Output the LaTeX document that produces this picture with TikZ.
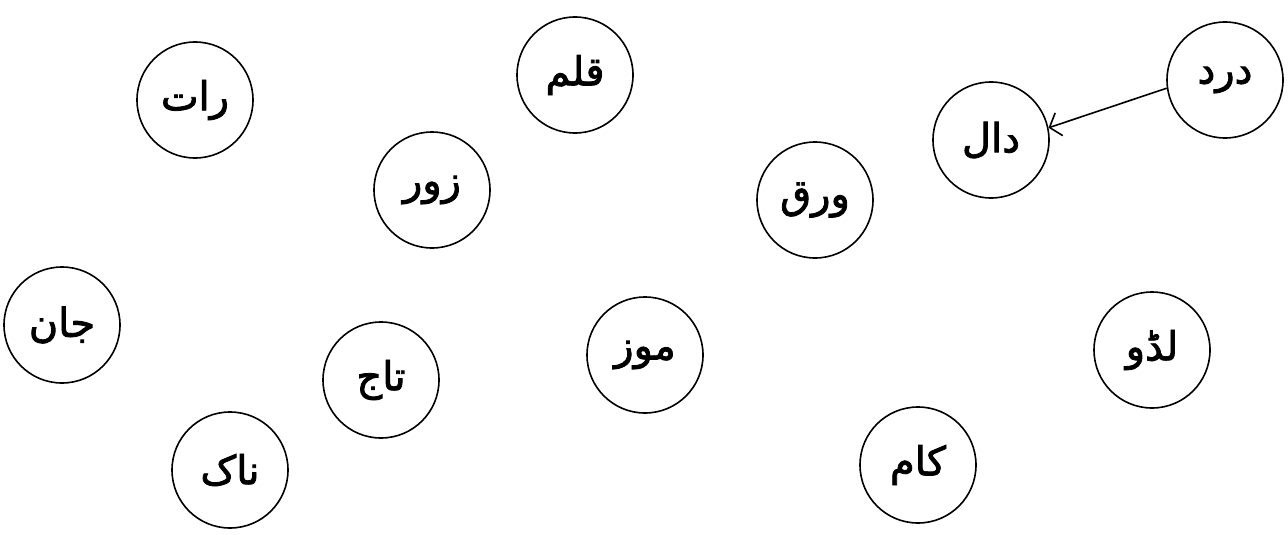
\documentclass[tikz,border=0pt]{standalone}
\usepackage{fontspec}
\newfontfamily\arabicfont[Script=Arabic,FakeBold=2]{DejaVu Sans}
\TeXXeTstate=1
\usetikzlibrary{arrows.meta}
\tikzset{
  word/.style={circle,draw,line width=1.6pt,minimum size=116pt,inner sep=0pt,
    font=\arabicfont\fontsize{40}{48}\selectfont},
  link/.style={line width=1.6pt,-{Straight Barb[length=10pt,width=24pt,line width=1.6pt]}}
}
\newcommand{\ur}[1]{\beginR #1\endR}
\begin{document}
\begin{tikzpicture}[x=1pt,y=-1pt]
\path[use as bounding box] (0,0) rectangle (1288,535);
\node[word] (raat) at (195,100) {\ur{رات}};
\node[word] (qalam) at (575,75) {\ur{قلم}};
\node[word] (dard) at (1225,80) {\ur{درد}};
\node[word] (daal) at (991,140) {\ur{دال}};
\node[word] (zor) at (432,190) {\ur{زور}};
\node[word] (waraq) at (815,200) {\ur{ورق}};
\node[word] (jaan) at (62,325) {\ur{جان}};
\node[word] (taaj) at (381,380) {\ur{تاج}};
\node[word] (mauz) at (645,355) {\ur{موز}};
\node[word] (laddu) at (1152,350) {\ur{لڈو}};
\node[word] (naak) at (230,470) {\ur{ناک}};
\node[word] (kaam) at (918,465) {\ur{کام}};
\draw[link] (dard.188) -- (daal.12);
\end{tikzpicture}
\end{document}
